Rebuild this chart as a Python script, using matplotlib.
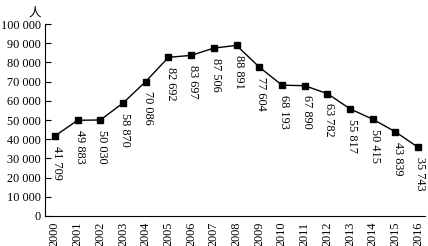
import matplotlib
matplotlib.use("Agg")
import matplotlib.pyplot as plt
from matplotlib.ticker import FuncFormatter

years = [str(y) for y in range(2000, 2017)]
values = [41709, 49883, 50030, 58870, 70086, 82692, 83697, 87506, 88891,
          77604, 68193, 67890, 63782, 55817, 50415, 43839, 35743]
y_ticks = list(range(0, 100001, 10000))
unit_label = "人"

plt.rcParams['font.family'] = ['Liberation Serif', 'Noto Sans CJK SC']

fig = plt.figure(figsize=(4.28, 2.46), dpi=100)
ax = fig.add_axes([0.105, 0.122, 0.888, 0.78])
x = list(range(len(years)))
ax.plot(x, values, color='black', lw=1.0, marker='s', ms=3.8, mfc='black', mec='black')

for xi, v in zip(x, values):
    s = f"{v:,}".replace(",", " ")
    ax.annotate(s, (xi, v), xytext=(1.5, -7), textcoords='offset points',
                rotation=270, ha='center', va='top', fontsize=8.8)

ax.set_xlim(-0.44, 16.3)
ax.set_ylim(0, 100000)
ax.set_yticks(y_ticks)
ax.yaxis.set_major_formatter(FuncFormatter(lambda v, p: f"{int(v):,}".replace(",", " ")))
ax.set_xticks(x)
ax.set_xticklabels(years, rotation=90)
ax.tick_params(axis='y', direction='in', length=4, width=0.8, labelsize=8.8, pad=3)
ax.tick_params(axis='x', length=0, labelsize=8.8, pad=4)
for s in ['top', 'right']:
    ax.spines[s].set_visible(False)
for s in ['left', 'bottom']:
    ax.spines[s].set_linewidth(0.8)

fig.text(0.08, 0.945, unit_label, fontsize=9, ha='center', va='center',
         family=['Noto Sans CJK SC'])

fig.savefig("out.png", dpi=100)
